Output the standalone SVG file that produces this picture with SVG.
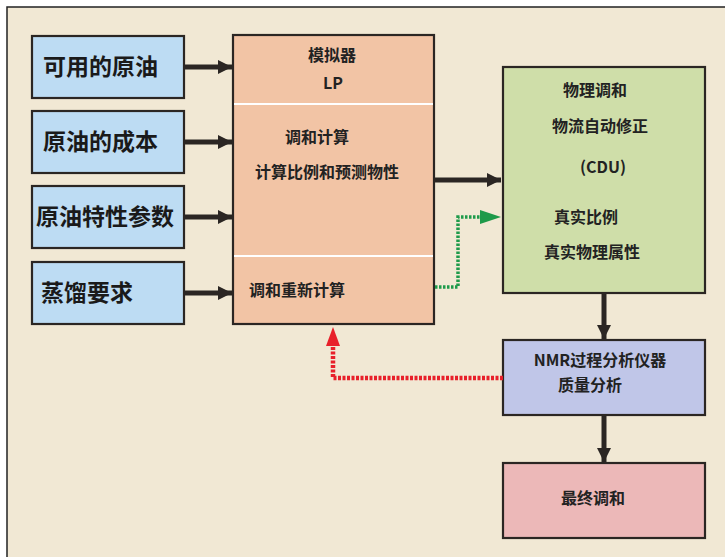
<svg xmlns="http://www.w3.org/2000/svg" width="725" height="557" viewBox="0 0 725 557">
<defs>
<style>
.box{stroke:#2b2623;stroke-width:2.2}
.in{fill:#bddcf3}
.big{font-family:"Noto Sans CJK SC","Liberation Sans",sans-serif;font-weight:bold;font-size:23px;fill:#1a1a1a}
.t{font-family:"Noto Sans CJK SC","Liberation Sans",sans-serif;font-weight:bold;font-size:16px;fill:#222}
.arr{stroke:#2b2623;stroke-width:5;fill:none}
</style>
<marker id="ah" viewBox="0 0 10 10" refX="10" refY="5" markerWidth="4.4" markerHeight="2.8" markerUnits="strokeWidth" orient="auto"><path d="M0,0 L10,5 L0,10 z" fill="#2b2623"/></marker>
<marker id="ahb" viewBox="0 0 10 10" refX="10" refY="5" markerWidth="4.4" markerHeight="2.8" markerUnits="strokeWidth" orient="auto"><path d="M0,0 L10,5 L0,10 z" fill="#2b2623"/></marker>
</defs>
<rect x="0" y="0" width="725" height="557" fill="#ffffff"/>
<rect x="7" y="7" width="718" height="550" fill="#f1e8d4"/>
<path d="M7,557 V7 H725" fill="none" stroke="#222" stroke-width="1.5"/>

<g id="inputs">
<g id="n1"><rect class="box in" x="32" y="36" width="152" height="62"/><text class="big" x="43" y="75">可用的原油</text></g>
<g id="n2"><rect class="box in" x="32" y="111" width="152" height="62"/><text class="big" x="43" y="150">原油的成本</text></g>
<g id="n3"><rect class="box in" x="32" y="186" width="152" height="62"/><text class="big" x="36" y="225">原油特性参数</text></g>
<g id="n4"><rect class="box in" x="32" y="262" width="152" height="62"/><text class="big" x="41" y="301">蒸馏要求</text></g>
</g>

<g id="sim">
<rect class="box" x="233" y="35" width="201" height="289" fill="#f2c4a5"/>
<line x1="234" y1="104" x2="433" y2="104" stroke="#fff" stroke-width="2"/>
<line x1="234" y1="256" x2="433" y2="256" stroke="#fff" stroke-width="2"/>
<text class="t" x="332" y="61" text-anchor="middle">模拟器</text>
<text class="t" x="333" y="89" text-anchor="middle">LP</text>
<text class="t" x="317" y="143" text-anchor="middle">调和计算</text>
<text class="t" x="327" y="178" text-anchor="middle">计算比例和预测物性</text>
<text class="t" x="297" y="296" text-anchor="middle">调和重新计算</text>
</g>

<g id="cdu">
<rect class="box" x="503" y="67" width="202" height="226" fill="#cfdea9"/>
<text class="t" x="595" y="96" text-anchor="middle">物理调和</text>
<text class="t" x="600" y="132" text-anchor="middle">物流自动修正</text>
<text class="t" x="603" y="173" text-anchor="middle">(CDU)</text>
<text class="t" x="586" y="223" text-anchor="middle">真实比例</text>
<text class="t" x="592" y="258" text-anchor="middle">真实物理属性</text>
</g>

<g id="nmr">
<rect class="box" x="503" y="340" width="202" height="75" fill="#c0c6e8"/>
<text class="t" x="600" y="366" text-anchor="middle">NMR过程分析仪器</text>
<text class="t" x="590" y="391" text-anchor="middle">质量分析</text>
</g>

<g id="final">
<rect class="box" x="503" y="463" width="202" height="75" fill="#ecb8b8"/>
<text class="t" x="593" y="504" text-anchor="middle">最终调和</text>
</g>

<g id="connectors">
<line class="arr" x1="185" y1="67" x2="232" y2="67" marker-end="url(#ah)"/>
<line class="arr" x1="185" y1="142" x2="232" y2="142" marker-end="url(#ah)"/>
<line class="arr" x1="185" y1="217" x2="232" y2="217" marker-end="url(#ah)"/>
<line class="arr" x1="185" y1="293" x2="232" y2="293" marker-end="url(#ah)"/>
<line x1="435" y1="180" x2="501" y2="180" stroke="#2b2623" stroke-width="5" marker-end="url(#ahb)"/>
<line x1="604" y1="294" x2="604" y2="339" stroke="#2b2623" stroke-width="5" marker-end="url(#ahb)"/>
<line x1="604" y1="416" x2="604" y2="462" stroke="#2b2623" stroke-width="5" marker-end="url(#ahb)"/>
<path d="M435,287 H458 V217 H482" fill="none" stroke="#1e9a4a" stroke-width="3.5" stroke-dasharray="2.5 1.5"/>
<path d="M480,210 L501,217 L480,224 z" fill="#1e9a4a"/>
<path d="M503,378 H333 V344" fill="none" stroke="#e8202a" stroke-width="4.5" stroke-dasharray="3 1.5"/>
<path d="M326,346 L333,327 L340,346 z" fill="#e8202a"/>
</g>
</svg>
